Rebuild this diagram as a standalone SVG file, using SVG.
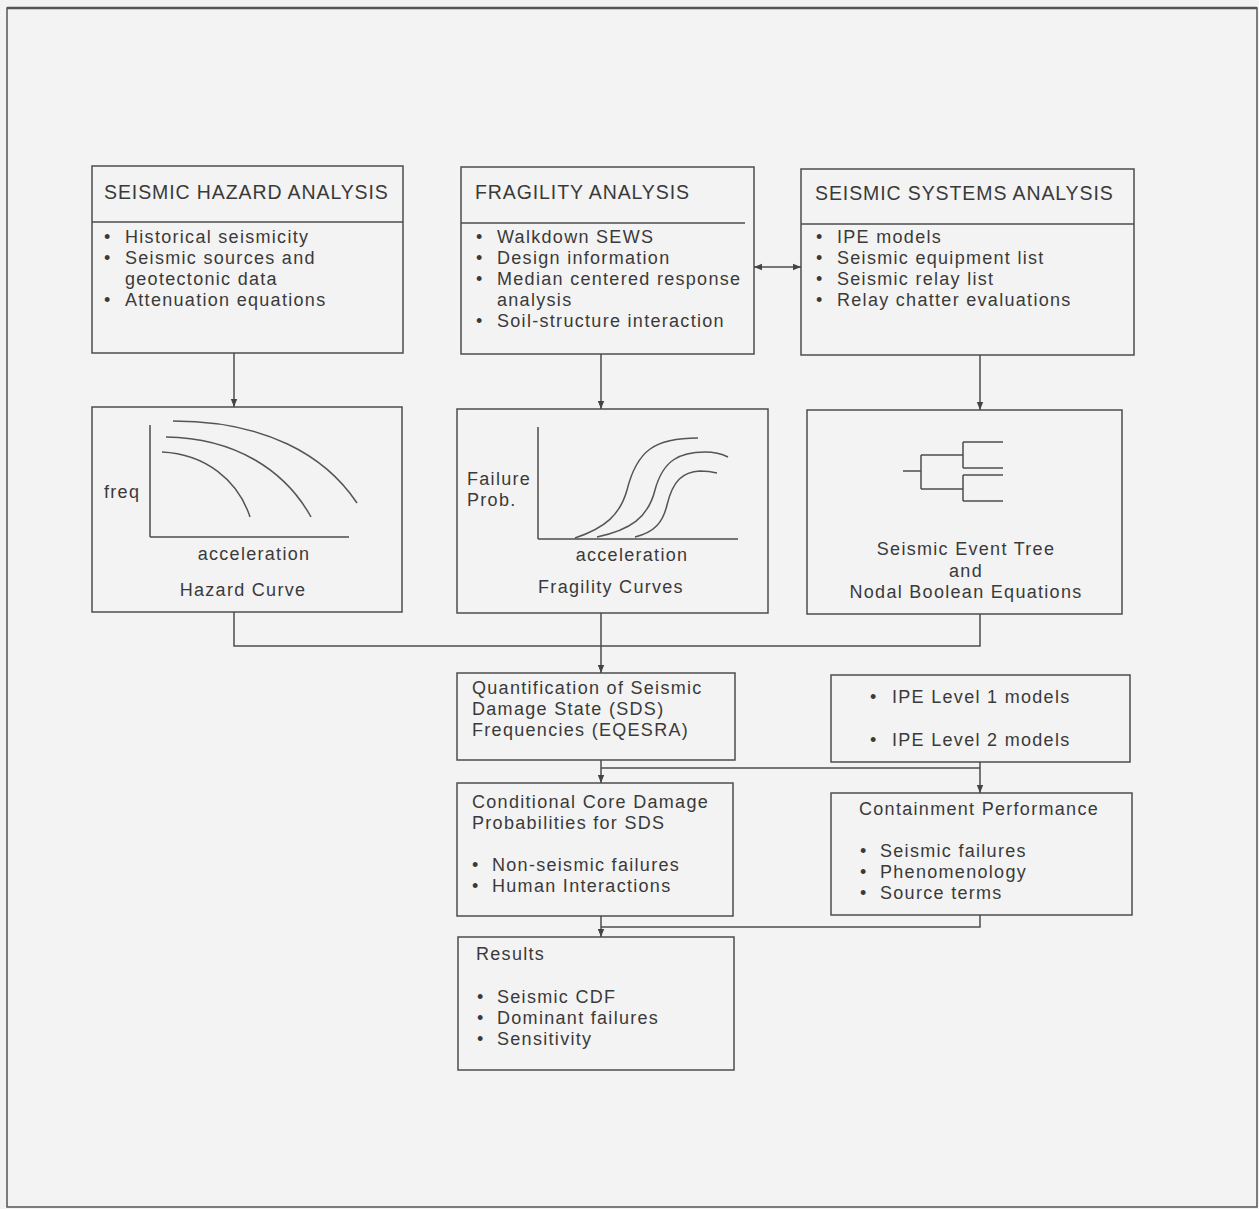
<svg xmlns="http://www.w3.org/2000/svg" width="1259" height="1209" viewBox="0 0 1259 1209">
<defs>
<marker id="ah" viewBox="0 0 10 10" refX="10" refY="5" markerWidth="8" markerHeight="8" markerUnits="userSpaceOnUse" orient="auto-start-reverse">
<path d="M0,1 L10,5 L0,9 Z" fill="#444"/>
</marker>
<style>
.bx{fill:none;stroke:#4d4d4d;stroke-width:1.5}
.ln{fill:none;stroke:#4d4d4d;stroke-width:1.5}
.cv{fill:none;stroke:#555;stroke-width:1.5}
text{font-family:"Liberation Sans",Arial,sans-serif;fill:#3a3a3a;font-size:18px;letter-spacing:1.3px}
.hd{font-size:19.5px;letter-spacing:0.9px}
.mid{text-anchor:middle}
</style>
</defs>
<rect x="0" y="0" width="1259" height="1209" fill="#f3f3f3"/>
<rect x="7" y="8" width="1250" height="1199" fill="none" stroke="#555" stroke-width="1.5"/>
<line x1="7" y1="8" x2="1257" y2="8" stroke="#555" stroke-width="2.5"/>

<g id="seismic-hazard-analysis">
<rect class="bx" x="92" y="166" width="311" height="187"/>
<line class="ln" x1="92" y1="222" x2="403" y2="222"/>
<text class="hd" x="104" y="199">SEISMIC HAZARD ANALYSIS</text>
<text x="104" y="243">•</text><text x="125" y="243">Historical seismicity</text>
<text x="104" y="264">•</text><text x="125" y="264">Seismic sources and</text>
<text x="125" y="285">geotectonic data</text>
<text x="104" y="306">•</text><text x="125" y="306">Attenuation equations</text>
</g>

<g id="fragility-analysis">
<rect class="bx" x="461" y="167" width="293" height="187"/>
<line class="ln" x1="461" y1="223" x2="745" y2="223"/>
<text class="hd" x="475" y="199">FRAGILITY ANALYSIS</text>
<text x="476" y="243">•</text><text x="497" y="243">Walkdown SEWS</text>
<text x="476" y="264">•</text><text x="497" y="264">Design information</text>
<text x="476" y="285">•</text><text x="497" y="285">Median centered response</text>
<text x="497" y="306">analysis</text>
<text x="476" y="327">•</text><text x="497" y="327">Soil-structure interaction</text>
</g>

<g id="seismic-systems-analysis">
<rect class="bx" x="801" y="169" width="333" height="186"/>
<line class="ln" x1="801" y1="224" x2="1134" y2="224"/>
<text class="hd" x="815" y="200">SEISMIC SYSTEMS ANALYSIS</text>
<text x="816" y="243">•</text><text x="837" y="243">IPE models</text>
<text x="816" y="264">•</text><text x="837" y="264">Seismic equipment list</text>
<text x="816" y="285">•</text><text x="837" y="285">Seismic relay list</text>
<text x="816" y="306">•</text><text x="837" y="306">Relay chatter evaluations</text>
</g>

<g id="hazard-curve">
<rect class="bx" x="92" y="407" width="310" height="205"/>
<line class="ln" x1="150" y1="425" x2="150" y2="537"/>
<line class="ln" x1="150" y1="537" x2="349" y2="537"/>
<path class="cv" d="M173,421 C265,421 325,455 357,503" stroke-width="2.5"/>
<path class="cv" d="M166,437 C235,438 285,470 311,517"/>
<path class="cv" d="M162,452 C205,454 238,480 250,517"/>
<text x="104" y="498">freq</text>
<text class="mid" x="254" y="560">acceleration</text>
<text class="mid" x="243" y="596">Hazard Curve</text>
</g>

<g id="fragility-curves">
<rect class="bx" x="457" y="409" width="311" height="204"/>
<line class="ln" x1="538" y1="427" x2="538" y2="539"/>
<line class="ln" x1="538" y1="539" x2="738" y2="539"/>
<path class="cv" d="M575,538 C605,528 620,515 627,490 C637,450 655,438 698,438"/>
<path class="cv" d="M597,537 C630,530 648,518 655,490 C663,460 680,452 705,452 C715,452 722,454 728,457"/>
<path class="cv" d="M635,537 C655,532 663,522 667,505 C673,480 683,472 700,471 C708,471 713,472 717,473"/>
<text x="467" y="485">Failure</text>
<text x="467" y="506">Prob.</text>
<text class="mid" x="632" y="561">acceleration</text>
<text class="mid" x="611" y="593">Fragility Curves</text>
</g>

<g id="event-tree">
<rect class="bx" x="807" y="410" width="315" height="204"/>
<path class="ln" d="M903,471 H921 M921,455 V489 M921,455 H963 M921,489 H963 M963,442 V468 M963,442 H1003 M963,468 H1003 M963,475 V501 M963,475 H1003 M963,501 H1003"/>
<text class="mid" x="966" y="555">Seismic Event Tree</text>
<text class="mid" x="966" y="577">and</text>
<text class="mid" x="966" y="598">Nodal Boolean Equations</text>
</g>

<g id="quantification">
<rect class="bx" x="457" y="673" width="278" height="87"/>
<text x="472" y="694">Quantification of Seismic</text>
<text x="472" y="715">Damage State (SDS)</text>
<text x="472" y="736">Frequencies (EQESRA)</text>
</g>

<g id="ipe-models">
<rect class="bx" x="831" y="675" width="299" height="87"/>
<text x="870" y="703">•</text><text x="892" y="703">IPE Level 1 models</text>
<text x="870" y="746">•</text><text x="892" y="746">IPE Level 2 models</text>
</g>

<g id="conditional-core-damage">
<rect class="bx" x="457" y="783" width="276" height="133"/>
<text x="472" y="808">Conditional Core Damage</text>
<text x="472" y="829">Probabilities for SDS</text>
<text x="472" y="871">•</text><text x="492" y="871">Non-seismic failures</text>
<text x="472" y="892">•</text><text x="492" y="892">Human Interactions</text>
</g>

<g id="containment-performance">
<rect class="bx" x="831" y="793" width="301" height="122"/>
<text x="859" y="815">Containment Performance</text>
<text x="860" y="857">•</text><text x="880" y="857">Seismic failures</text>
<text x="860" y="878">•</text><text x="880" y="878">Phenomenology</text>
<text x="860" y="899">•</text><text x="880" y="899">Source terms</text>
</g>

<g id="results">
<rect class="bx" x="458" y="937" width="276" height="133"/>
<text x="476" y="960">Results</text>
<text x="477" y="1003">•</text><text x="497" y="1003">Seismic CDF</text>
<text x="477" y="1024">•</text><text x="497" y="1024">Dominant failures</text>
<text x="477" y="1045">•</text><text x="497" y="1045">Sensitivity</text>
</g>

<g id="connectors">
<line class="ln" x1="234" y1="353" x2="234" y2="407" marker-end="url(#ah)"/>
<line class="ln" x1="601" y1="354" x2="601" y2="409" marker-end="url(#ah)"/>
<line class="ln" x1="980" y1="355" x2="980" y2="410" marker-end="url(#ah)"/>
<line class="ln" x1="754" y1="267" x2="801" y2="267" marker-start="url(#ah)" marker-end="url(#ah)"/>
<path class="ln" d="M234,612 V646 H980 V614"/>
<line class="ln" x1="601" y1="613" x2="601" y2="673" marker-end="url(#ah)"/>
<line class="ln" x1="601" y1="760" x2="601" y2="783" marker-end="url(#ah)"/>
<path class="ln" d="M601,768 H980"/>
<line class="ln" x1="980" y1="762" x2="980" y2="793" marker-end="url(#ah)"/>
<path class="ln" d="M980,915 V927 H601"/>
<line class="ln" x1="601" y1="916" x2="601" y2="937" marker-end="url(#ah)"/>
</g>
</svg>
